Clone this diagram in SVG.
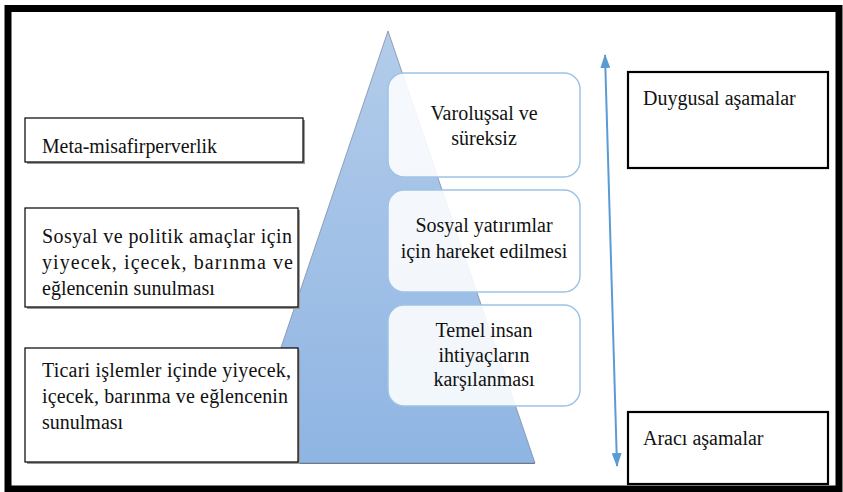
<svg xmlns="http://www.w3.org/2000/svg" width="843" height="492" viewBox="0 0 843 492">
  <defs>
    <linearGradient id="pyramidFill" x1="0" y1="0" x2="0" y2="1">
      <stop offset="0" stop-color="#B3CCEA"/>
      <stop offset="1" stop-color="#8FB5E3"/>
    </linearGradient>
    <marker id="arrowHead" viewBox="0 0 14 10" refX="13" refY="5" markerWidth="14" markerHeight="10" orient="auto-start-reverse" markerUnits="userSpaceOnUse">
      <path d="M0,0 L14,5 L0,10 z" fill="#5B9BD5"/>
    </marker>
    <style>
      text { font-family: "Liberation Serif", "Times New Roman", "DejaVu Serif", serif; font-size: 20px; fill: #111; }
      .mid { text-anchor: middle; }
      .plain { fill: #fff; stroke: #000; stroke-width: 1.2; }
      .shadow { fill: #9a9a9a; }
      .level { fill: #fff; fill-opacity: 0.88; stroke: #9DC3E6; stroke-width: 1.5; }
      .stage { fill: #fff; stroke: #000; stroke-width: 2.2; }
    </style>
  </defs>

  <rect x="0" y="0" width="843" height="492" fill="#fff"/>

  <!-- page frame -->
  <rect x="8" y="8.5" width="831" height="480.5" fill="none" stroke="#000" stroke-width="7"/>

  <!-- pyramid -->
  <g id="pyramid">
    <path d="M388,31 L535,463 L242,463 Z" fill="url(#pyramidFill)" stroke="#7f8ea3" stroke-width="0.8"/>
    <line x1="242" y1="463.5" x2="535" y2="463.5" stroke="#6f7a88" stroke-width="1"/>
  </g>

  <g font-family="'Liberation Serif', 'Times New Roman', 'DejaVu Serif', serif">
  <!-- hospitality levels on the left -->
  <g id="meta">
    <rect class="shadow" x="27" y="120" width="278" height="44"/>
    <rect class="plain" x="25" y="118" width="278" height="44"/>
    <text x="42" y="153" textLength="175" lengthAdjust="spacingAndGlyphs">Meta-misafirperverlik</text>
  </g>

  <g id="social-political">
    <rect class="shadow" x="27" y="210" width="273" height="99"/>
    <rect class="plain" x="25" y="208" width="273" height="99"/>
    <text x="42" y="243" textLength="250" lengthAdjust="spacing">Sosyal ve politik amaçlar için</text>
    <text x="42" y="269" textLength="251" lengthAdjust="spacing">yiyecek, içecek, barınma ve</text>
    <text x="42" y="295">eğlencenin sunulması</text>
  </g>

  <g id="commercial">
    <rect class="shadow" x="27" y="350" width="273" height="114"/>
    <rect class="plain" x="25" y="348" width="273" height="114"/>
    <text x="42" y="377" textLength="249" lengthAdjust="spacing">Ticari işlemler içinde yiyecek,</text>
    <text x="42" y="403" textLength="246" lengthAdjust="spacing">içecek, barınma ve eğlencenin</text>
    <text x="42" y="429">sunulması</text>
  </g>

  <!-- needs inside the pyramid -->
  <g id="existential">
    <rect class="level" x="388" y="73" width="192" height="104" rx="16"/>
    <text class="mid" x="484" y="120">Varoluşsal ve</text>
    <text class="mid" x="484" y="145">süreksiz</text>
  </g>

  <g id="social-investment">
    <rect class="level" x="388" y="190" width="192" height="102" rx="16"/>
    <text class="mid" x="484" y="232">Sosyal yatırımlar</text>
    <text class="mid" x="484" y="258">için hareket edilmesi</text>
  </g>

  <g id="basic-needs">
    <rect class="level" x="388" y="305" width="192" height="101" rx="16"/>
    <text class="mid" x="484" y="337">Temel insan</text>
    <text class="mid" x="484" y="362">ihtiyaçların</text>
    <text class="mid" x="484" y="386">karşılanması</text>
  </g>

  <!-- stage labels on the right -->
  <g id="emotional">
    <rect class="stage" x="628" y="72" width="200" height="96"/>
    <text x="643" y="105">Duygusal aşamalar</text>
  </g>

  <g id="instrumental">
    <rect class="stage" x="628" y="412" width="200" height="72"/>
    <text x="643" y="445">Aracı aşamalar</text>
  </g>
  </g>

  <!-- connectors -->
  <g id="connectors">
    <line x1="611" y1="260" x2="605" y2="55" stroke="#5B9BD5" stroke-width="2" marker-end="url(#arrowHead)"/>
    <line x1="611" y1="260" x2="617" y2="466" stroke="#5B9BD5" stroke-width="2" marker-end="url(#arrowHead)"/>
  </g>
</svg>
